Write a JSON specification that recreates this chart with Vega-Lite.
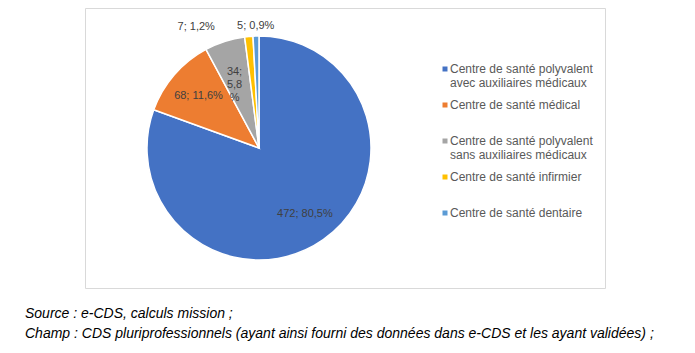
{
  "$schema": "https://vega.github.io/schema/vega-lite/v6.json",
  "width": 520,
  "height": 280,
  "autosize": {"type": "none"},
  "padding": {"left": 85, "top": 8, "right": 90, "bottom": 65},
  "background": "white",
  "view": {"stroke": "#d9d9d9", "strokeWidth": 1},
  "config": {"view": {"stroke": "#d9d9d9", "strokeWidth": 1}, "font": "Liberation Sans"},
  "title": {
    "text": ["Source :  e-CDS, calculs mission ;", "Champ : CDS pluriprofessionnels (ayant ainsi fourni des données dans e-CDS et les ayant validées) ;"],
    "orient": "bottom", "anchor": "start", "frame": "group", "offset": 19, "dx": -60,
    "baseline": "top", "fontSize": 14, "fontStyle": "italic", "fontWeight": "normal",
    "color": "#000000", "lineHeight": 20, "font": "Liberation Sans"
  },
  "data": {"values": [
    {"categorie": "Centre de santé polyvalent avec auxiliaires médicaux", "n": 472, "label": "472; 80,5%"},
    {"categorie": "Centre de santé médical", "n": 68, "label": "68; 11,6%"},
    {"categorie": "Centre de santé polyvalent sans auxiliaires médicaux", "n": 34, "label": "34;\n5,8\n%"},
    {"categorie": "Centre de santé infirmier", "n": 7, "label": "7; 1,2%"},
    {"categorie": "Centre de santé dentaire", "n": 5, "label": "5; 0,9%"}
  ]},
  "encoding": {
    "theta": {"field": "n", "type": "quantitative", "stack": true},
    "order": {"field": "n", "type": "quantitative", "sort": "descending"}
  },
  "layer": [
    {
      "mark": {"type": "arc", "outerRadius": 112, "x": 174, "stroke": "white", "strokeWidth": 1.5},
      "encoding": {
        "color": {
          "field": "categorie", "type": "nominal",
          "scale": {
            "domain": ["Centre de santé polyvalent avec auxiliaires médicaux", "Centre de santé médical", "Centre de santé polyvalent sans auxiliaires médicaux", "Centre de santé infirmier", "Centre de santé dentaire"],
            "range": ["#4472C4", "#ED7D31", "#A5A5A5", "#FFC000", "#5B9BD5"]
          },
          "legend": {
            "orient": "none", "legendX": 354, "legendY": 55, "title": null, "padding": 0,
            "symbolType": "square", "symbolSize": 25, "symbolStrokeWidth": 0,
            "labelFontSize": 12, "labelColor": "#595959", "labelFont": "Liberation Sans",
            "labelBaseline": "middle", "labelOffset": -1, "labelLimit": 300, "rowPadding": 10,
            "labelExpr": "datum.label == 'Centre de santé polyvalent avec auxiliaires médicaux' ? ['Centre de santé polyvalent', 'avec auxiliaires médicaux'] : datum.label == 'Centre de santé polyvalent sans auxiliaires médicaux' ? ['Centre de santé polyvalent', 'sans auxiliaires médicaux'] : [datum.label, '']"
          }
        }
      }
    },
    {
      "mark": {"type": "text", "radius": 80, "x": 174, "fontSize": 11, "color": "#404040", "lineBreak": "\n"},
      "encoding": {"text": {"condition": {"test": "datum.n >= 30", "field": "label"}, "value": ""}}
    },
    {
      "mark": {"type": "text", "radius": 122, "x": 174, "fontSize": 11, "color": "#404040", "align": "right", "dx": -33},
      "encoding": {"text": {"condition": {"test": "datum.n == 7", "field": "label"}, "value": ""}}
    },
    {
      "mark": {"type": "text", "radius": 122, "x": 174, "fontSize": 11, "color": "#404040"},
      "encoding": {"text": {"condition": {"test": "datum.n == 5", "field": "label"}, "value": ""}}
    }
  ]
}
